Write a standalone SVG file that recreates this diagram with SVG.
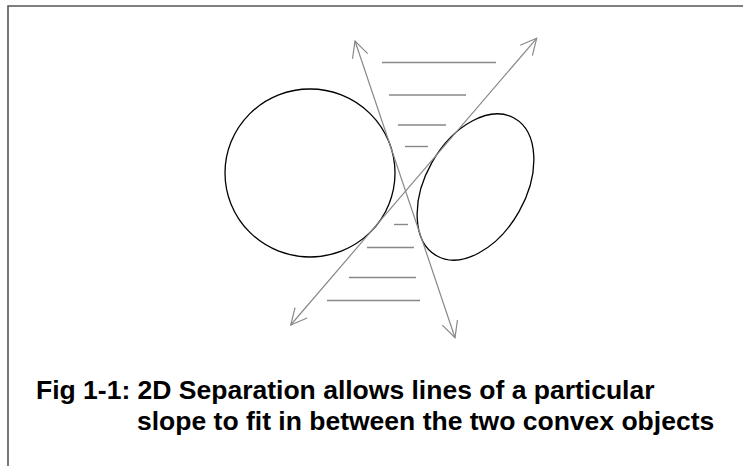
<svg xmlns="http://www.w3.org/2000/svg" width="743" height="466" viewBox="0 0 743 466">
  <style>
    .frame { fill: none; stroke: #555; stroke-width: 1.6; }
    .shape { fill: none; stroke: #000; stroke-width: 1.3; }
    .arrow { fill: none; stroke: #888; stroke-width: 1.2; marker-start: url(#head); marker-end: url(#head); }
    .hatch { fill: none; stroke: #888; stroke-width: 1.4; }
    .caption { font-family: "Liberation Sans", Arial, sans-serif; font-weight: bold; font-size: 26.5px; fill: #000; }
  </style>
  <defs>
    <marker id="head" markerUnits="userSpaceOnUse" markerWidth="40" markerHeight="40" viewBox="-20 -20 40 40" refX="0" refY="0" orient="auto-start-reverse" overflow="visible">
      <path d="M-16,-8 L0,0 L-16,8" fill="none" stroke="#888" stroke-width="1.2"/>
    </marker>
  </defs>
  <path class="frame" d="M8,466 V6 H743"/>
  <g id="circle-left">
    <ellipse class="shape" cx="310" cy="173" rx="85" ry="84"/>
  </g>
  <g id="ellipse-right">
    <ellipse class="shape" cx="0" cy="0" rx="79" ry="50" transform="translate(475.5,187) rotate(-60.5)"/>
  </g>
  <g id="hatch-lines">
    <line class="hatch" x1="382" y1="62.5" x2="496" y2="62.5"/>
    <line class="hatch" x1="389" y1="95" x2="466" y2="95"/>
    <line class="hatch" x1="398" y1="125" x2="446" y2="125"/>
    <line class="hatch" x1="405" y1="146.5" x2="428" y2="146.5"/>
    <line class="hatch" x1="394" y1="224.5" x2="408" y2="224.5"/>
    <line class="hatch" x1="367" y1="247.5" x2="414" y2="247.5"/>
    <line class="hatch" x1="349" y1="277.5" x2="416" y2="277.5"/>
    <line class="hatch" x1="327" y1="300.5" x2="420" y2="300.5"/>
  </g>
  <g id="connectors">
    <line class="arrow" x1="290.7" y1="325" x2="536.7" y2="38.3"/>
    <line class="arrow" x1="355" y1="41" x2="455" y2="337.7"/>
  </g>
  <g id="caption">
    <text class="caption" x="36" y="399">Fig 1-1: 2D Separation allows lines of a particular</text>
    <text class="caption" x="137" y="430">slope to fit in between the two convex objects</text>
  </g>
</svg>
